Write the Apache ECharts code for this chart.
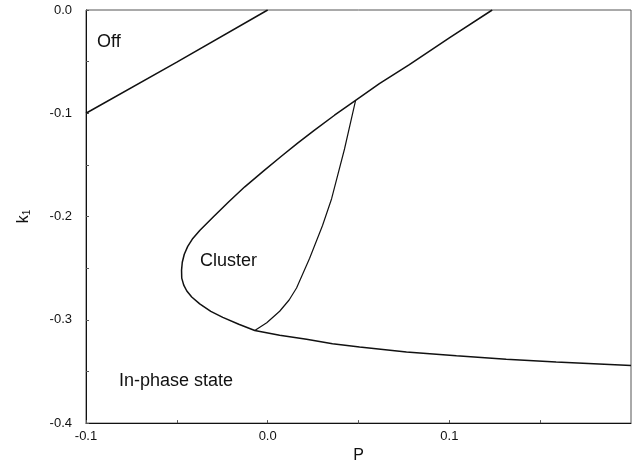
<!DOCTYPE html>
<html>
<head>
<meta charset="utf-8">
<script src="https://cdn.jsdelivr.net/npm/echarts@6/dist/echarts.min.js"></script>
<style>
html,body{margin:0;padding:0;background:#fff;}
#chart{width:634px;height:469px;}
</style>
</head>
<body>
<div id="chart"></div>
<script>
// Boundary "Off" / In-phase
var offP = [-0.1, -0.05, 0.0];
var offK = [-0.1, -0.0505, 0.0];

// Main boundary (upper branch -> nose -> lower branch)
var mainP = [0.1236, 0.1000, 0.0780, 0.0615, 0.0484, 0.0368, 0.0258, 0.0165, 0.0077, -0.0022, -0.0126, -0.0214, -0.0297, -0.0374,
             -0.0412, -0.0440, -0.0459, -0.0470, -0.0474, -0.0473, -0.0462, -0.0445, -0.0418, -0.0374, -0.0313, -0.0247, -0.0159, -0.0071,
             0.0066, 0.0214, 0.0357, 0.0506, 0.0764, 0.1039, 0.1313, 0.1588, 0.2000];
var mainK = [0.0, -0.0269, -0.0529, -0.0712, -0.0875, -0.1019, -0.1164, -0.1289, -0.1414, -0.1558, -0.1712, -0.1856, -0.2000, -0.2135,
             -0.2212, -0.2289, -0.2365, -0.2442, -0.2519, -0.2596, -0.2664, -0.2721, -0.2779, -0.2846, -0.2918, -0.2976, -0.3043, -0.3103,
             -0.3149, -0.3189, -0.3231, -0.3264, -0.3311, -0.3349, -0.3382, -0.3409, -0.3443];

// Cluster inner boundary
var clusterP = [0.0484, 0.0423, 0.0352, 0.0302, 0.0231, 0.0159, 0.0118, 0.0066, -0.0005, -0.0071];
var clusterK = [-0.0875, -0.1346, -0.1827, -0.2087, -0.2404, -0.2692, -0.2808, -0.2917, -0.3029, -0.3103];

// Tick labels
var xTickLabels = ['-0.1', '0.0', '0.1'];
var yTickLabels = ['0.0', '-0.1', '-0.2', '-0.3', '-0.4'];
var regionLabels = ['Off', 'Cluster', 'In-phase state'];

function zip(a, b) { return a.map(function (v, i) { return [v, b[i]]; }); }

function fmtX(v) {
  var r = Math.round(v * 100);
  if (r % 10 !== 0) return '';
  var s = (r / 100).toFixed(1);
  if (s === '-0.0') s = '0.0';
  return xTickLabels.indexOf(s) >= 0 ? s : '';
}
function fmtY(v) {
  var r = Math.round(v * 100);
  if (r % 10 !== 0) return '';
  var s = (r / 100).toFixed(1);
  if (s === '-0.0') s = '0.0';
  return yTickLabels.indexOf(s) >= 0 ? s : '';
}

var chart = echarts.init(document.getElementById('chart'), null, {renderer: 'canvas'});
var FONT = '"Liberation Sans", Arial, Helvetica, sans-serif';
var lineStyle = {color: '#111', width: 1.5};

chart.setOption({
  animation: false,
  backgroundColor: '#fff',
  grid: {left: 86, right: 3, top: 10, bottom: 43, show: true, borderColor: '#555', borderWidth: 1},
  xAxis: {
    type: 'value', min: -0.1, max: 0.2, interval: 0.05,
    name: 'P', nameLocation: 'middle', nameGap: 22,
    nameTextStyle: {color: '#111', fontSize: 16, fontFamily: FONT},
    axisLine: {show: true, onZero: false, lineStyle: {color: '#111', width: 1}},
    axisTick: {show: true, inside: true, length: 3, lineStyle: {color: '#555'}},
    splitLine: {show: false},
    axisLabel: {color: '#111', fontSize: 13, fontFamily: FONT, margin: 7, formatter: fmtX, showMaxLabel: false}
  },
  yAxis: {
    type: 'value', min: -0.4, max: 0, interval: 0.05,
    name: '{a|k}{b|1}', nameLocation: 'middle', nameGap: 54, nameRotate: 90,
    nameTextStyle: {
      color: '#111', fontFamily: FONT,
      rich: {
        a: {fontSize: 16, fontFamily: FONT, color: '#111'},
        b: {fontSize: 10, fontFamily: FONT, color: '#111', verticalAlign: 'bottom', padding: [6, 0, 0, 0]}
      }
    },
    axisLine: {show: true, onZero: false, lineStyle: {color: '#111', width: 1}},
    axisTick: {show: true, inside: true, length: 3, lineStyle: {color: '#555'}},
    splitLine: {show: false},
    axisLabel: {color: '#111', fontSize: 13, fontFamily: FONT, margin: 14, formatter: fmtY}
  },
  series: [
    {type: 'line', data: zip(offP, offK), showSymbol: false, lineStyle: lineStyle, smooth: false},
    {type: 'line', data: zip(mainP, mainK), showSymbol: false, lineStyle: lineStyle, smooth: false},
    {type: 'line', data: zip(clusterP, clusterK), showSymbol: false, lineStyle: {color: '#111', width: 1.2}, smooth: false}
  ],
  graphic: [
    {type: 'text', left: 97, top: 33, style: {text: regionLabels[0], fontSize: 18, fontFamily: FONT, fill: '#111'}},
    {type: 'text', left: 200, top: 252, style: {text: regionLabels[1], fontSize: 18, fontFamily: FONT, fill: '#111'}},
    {type: 'text', left: 119, top: 372, style: {text: regionLabels[2], fontSize: 18, fontFamily: FONT, fill: '#111'}}
  ]
});
</script>
</body>
</html>
